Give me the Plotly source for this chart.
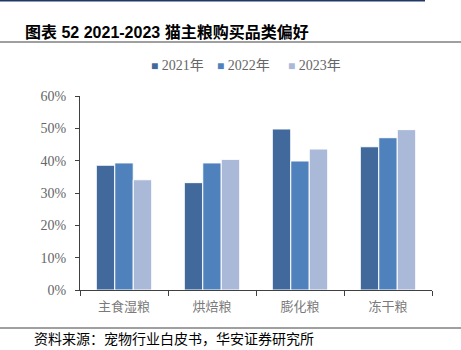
import plotly.graph_objects as go

categories = ["主食湿粮", "烘焙粮", "膨化粮", "冻干粮"]
series_names = ["2021年", "2022年", "2023年"]
v2021 = [0.386, 0.332, 0.498, 0.443]
v2022 = [0.393, 0.393, 0.399, 0.471]
v2023 = [0.341, 0.404, 0.436, 0.496]
colors = ["#41699B", "#4F81BD", "#A9B9D7"]
yticks = [0, 0.1, 0.2, 0.3, 0.4, 0.5, 0.6]
ytick_labels = ["0%", "10%", "20%", "30%", "40%", "50%", "60%"]
legend_x = [150, 216, 287]

fig = go.Figure()
for name, vals, c in zip(series_names, [v2021, v2022, v2023], colors):
    fig.add_trace(go.Bar(x=categories, y=vals, name=name, showlegend=False,
                         marker=dict(color=c, line=dict(color="white", width=1))))

tick_font = dict(family="Liberation Serif, Noto Sans CJK SC", size=14, color="#666666")
W, H = 352, 194
fig.update_layout(
    width=461, height=350,
    margin=dict(l=80, r=29, t=96, b=60),
    paper_bgcolor="white", plot_bgcolor="white",
    barmode="group", bargap=0.37, bargroupgap=0.0,
    xaxis=dict(showline=True, linecolor="#404040", linewidth=1, ticks="outside",
               tickson="boundaries", ticklen=5, tickcolor="#404040",
               ticklabelstandoff=4,
               tickfont=dict(family="Noto Sans CJK SC", size=13, color="#7A7A7A"),
               showgrid=False),
    yaxis=dict(range=[0, 0.6], tickvals=yticks, ticktext=ytick_labels,
               showline=True, linecolor="#404040", linewidth=1, ticks="outside",
               ticklen=4, tickcolor="#404040", tickfont=tick_font, showgrid=False,
               ticklabelstandoff=6, zeroline=False),
    font=dict(family="Noto Sans CJK SC"),
)

shapes = [
    dict(type="line", xref="paper", yref="paper", x0=-80/W, x1=(425-80)/W,
         y0=1 + 95.5/H, y1=1 + 95.5/H, line=dict(color="#1F3864", width=2)),
    dict(type="line", xref="paper", yref="paper", x0=-80/W, x1=(461-80)/W,
         y0=1 + (96-42)/H, y1=1 + (96-42)/H, line=dict(color="#404040", width=1)),
    dict(type="line", xref="paper", yref="paper", x0=-80/W, x1=(461-80)/W,
         y0=-(328-290)/H, y1=-(328-290)/H, line=dict(color="#404040", width=1)),
]
fig.update_layout(shapes=shapes)

for name, c, lx in zip(series_names, colors, legend_x):
    fig.add_annotation(text=f"<span style='color:{c};font-size:12px'>■</span> {name}", xref="paper", yref="paper",
                       x=(lx - 1 - 80)/W, y=1 + (96-65)/H, xanchor="left", yanchor="middle",
                       showarrow=False, font=dict(family="Liberation Serif, Noto Sans CJK SC", size=14, color="#666666"))

fig.add_annotation(text="<b>图表 52 2021-2023 猫主粮购买品类偏好</b>", xref="paper", yref="paper",
                   x=(23-80)/W, y=1 + (96-32)/H, xanchor="left", yanchor="middle",
                   showarrow=False, font=dict(family="Liberation Sans, Noto Sans CJK SC", size=16, color="#000000"))
fig.add_annotation(text="资料来源：宠物行业白皮书，华安证券研究所", xref="paper", yref="paper",
                   x=(32-80)/W, y=-(338-290)/H, xanchor="left", yanchor="middle",
                   showarrow=False, font=dict(family="Noto Sans CJK SC", size=14, color="#000000"))

fig.write_html("out.html")
